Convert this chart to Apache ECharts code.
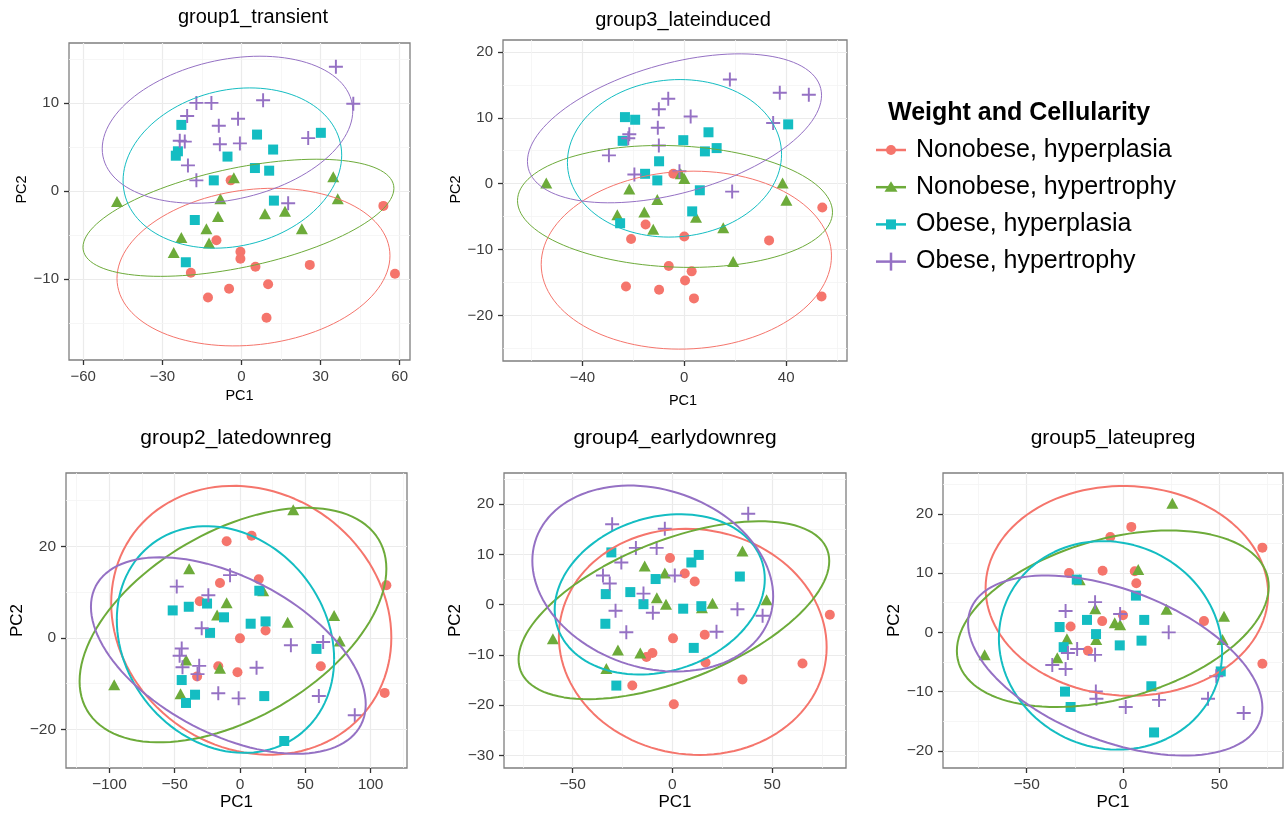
<!DOCTYPE html>
<html><head><meta charset="utf-8">
<script src="https://cdn.jsdelivr.net/npm/echarts@6/dist/echarts.min.js"></script>
<style>html,body{margin:0;padding:0;background:#fff}#chart{width:1286px;height:814px}</style>
</head><body><div id="chart"></div>
<script>
// ---------- data ----------
const groupNames = ['Nonobese, hyperplasia','Nonobese, hypertrophy','Obese, hyperplasia','Obese, hypertrophy'];
const groupColors = ['#F5756C','#6DAB3A','#14BDC2','#9571C4'];
const legendTitle = 'Weight and Cellularity';
const panelTitles = ['group1_transient','group3_lateinduced','group2_latedownreg','group4_earlydownreg','group5_lateupreg'];

// panel 1: group1_transient
const p1_red = [[-4.1,1.2],[-9.5,-5.6],[-0.4,-6.9],[-0.4,-7.7],[5.3,-8.6],[25.9,-8.4],[-19.2,-9.3],[53.8,-1.7],[58.2,-9.4],[-12.7,-12.1],[-4.7,-11.1],[10.1,-10.6],[9.5,-14.4]];
const p1_green = [[-47.2,-1.2],[-2.9,1.5],[-8.0,-0.9],[-8.9,-2.9],[-13.3,-4.3],[-22.8,-5.3],[-12.3,-5.9],[-25.7,-7.0],[8.9,-2.6],[16.5,-2.3],[22.9,-4.3],[34.8,1.6],[36.5,-0.9]];
const p1_cyan = [[-22.8,7.5],[-24.1,4.5],[-24.9,4.0],[-5.3,3.9],[-10.5,1.2],[5.9,6.4],[12.0,4.7],[5.1,2.6],[10.5,2.3],[30.1,6.6],[12.3,-1.1],[-17.7,-3.3],[-21.1,-8.1]];
const p1_purple = [[35.8,14.1],[42.4,9.9],[-17.1,10.0],[-11.4,10.0],[8.2,10.3],[-20.6,8.5],[-8.6,7.4],[-1.3,8.2],[-23.4,5.7],[-21.5,5.6],[-8.2,5.3],[-0.6,5.4],[25.3,6.0],[-20.3,2.9],[-17.1,1.2],[17.7,-1.4]];
// ellipse: [xmin, xmax, ymin, ymax, x at topmost point]
const p1_ellipses = [[-47.2,56.3,-17.6,0.3,12.0],[-60.1,57.8,-9.7,3.6,28.5],[-44.9,38.0,-6.5,11.7,3.2],[-52.8,42.2,-1.4,15.3,7.0]];
const p1_xRange = [-65.4,63.9], p1_yRange = [-19.2,16.8];
const p1_xTicks = [-60,-30,0,30,60], p1_yTicks = [-10,0,10];

// panel 2: group3_lateinduced
const p2_red = [[-4.3,1.5],[-15.2,-6.2],[-20.9,-8.4],[0,-8.0],[33.3,-8.6],[54.2,-3.6],[-6.1,-12.5],[2.9,-13.3],[0.3,-14.7],[-22.9,-15.6],[-9.9,-16.1],[3.8,-17.4],[53.9,-17.1]];
const p2_green = [[-54.2,0.1],[-21.6,-0.8],[-1.4,1.5],[0,0.8],[-10.6,-2.4],[-26.3,-4.7],[-15.7,-4.3],[-12.2,-6.9],[4.6,-5.1],[15.3,-6.7],[19.2,-11.8],[38.6,0.1],[40.1,-2.5]];
const p2_cyan = [[-23.3,10.1],[-19.3,9.7],[-24.2,6.5],[-0.4,6.6],[9.5,7.8],[8.1,4.9],[12.7,5.4],[-9.9,3.4],[-15.4,1.5],[-10.6,0.5],[6.1,-1.0],[3.1,-4.2],[-25.2,-6.0],[40.8,9.0]];
const p2_purple = [[17.9,15.8],[37.5,13.8],[48.9,13.5],[-6.3,12.9],[-10.0,11.3],[2.5,10.2],[-10.4,8.5],[-21.6,7.5],[-22.0,6.9],[-10.0,5.8],[-29.6,4.3],[-19.6,1.4],[-1.9,1.9],[34.9,9.2],[18.8,-1.2]];
const p2_ellipses = [[-56.2,57.8,-25.1,1.9,3.5],[-65.5,58.2,-12.7,5.8,-9.5],[-45.9,38.2,-8.1,15.8,-1.7],[-61.6,53.9,-2.9,19.7,21.8]];
const p2_xRange = [-71.2,63.9], p2_yRange = [-26.9,21.8];
const p2_xTicks = [-40,0,40], p2_yTicks = [-20,-10,0,10,20];

// panel 3: group2_latedownreg
const p3_red = [[-10.2,21.1],[8.9,22.3],[-15.3,12.0],[14.4,12.8],[-30.8,8.0],[0,-0.1],[19.6,1.6],[-16.6,-6.2],[-1.9,-7.5],[-32.8,-8.4],[61.9,-6.2],[112.1,11.5],[110.8,-12.0]];
const p3_green = [[-38.9,15.1],[-10.2,7.7],[-17.5,5.0],[17.8,10.3],[36.5,3.4],[40.8,28.0],[72.1,4.9],[76.4,-0.7],[-41.2,-4.8],[-15.3,-6.6],[-45.5,-12.2],[-96.3,-10.2]];
const p3_cyan = [[-51.5,6.0],[-39.2,6.8],[-25.2,7.5],[-12.2,4.5],[-22.9,1.1],[8.2,3.1],[19.6,3.6],[14.8,10.3],[58.6,-2.4],[-44.6,-9.2],[-34.4,-12.4],[-41.3,-14.2],[18.6,-12.7],[33.9,-22.5]];
const p3_purple = [[-48.4,11.2],[-7.6,13.7],[-24.2,9.3],[-29.3,2.1],[-44.6,-2.3],[-46.2,-3.9],[-44.0,-6.4],[-31.2,-6.1],[-32.5,-7.9],[12.7,-6.5],[39.0,-1.6],[63.7,-0.9],[-16.6,-12.1],[-1.0,-13.2],[60.4,-12.7],[87.9,-16.9]];
const p3_ellipses = [[-98.6,115.9,-25.5,33.2,-5.1],[-122.8,112.1,-22.8,28.4,51.0],[-94.3,72.1,-25.1,24.4,-25.5],[-114.1,96.3,-25.3,17.6,-61.1]];
const p3_xRange = [-133.2,127.9], p3_yRange = [-28.4,36.0];
const p3_xTicks = [-100,-50,0,50,100], p3_yTicks = [-20,0,20];

// panel 4: group4_earlydownreg
const p4_red = [[-1.2,9.3],[6.2,6.2],[11.2,4.6],[0.3,-6.7],[16.2,-6.0],[-13.0,-10.4],[-10.0,-9.6],[16.6,-11.5],[-20.1,-16.1],[0.7,-19.8],[35.1,-14.9],[65.2,-11.7],[78.9,-2.0]];
const p4_green = [[-13.9,7.7],[-3.8,6.3],[-7.8,1.4],[-3.2,0.1],[14.8,-0.6],[20.1,0.3],[35.1,10.7],[47.2,1.0],[-59.9,-6.8],[-27.3,-9.0],[-16.1,-9.6],[-33.1,-12.7]];
const p4_cyan = [[-30.6,10.4],[-33.4,2.1],[-21.1,2.5],[-14.5,0.1],[-8.4,5.1],[9.5,8.4],[13.2,9.9],[33.8,5.6],[5.4,-0.8],[14.5,-0.3],[-33.6,-3.8],[10.7,-8.6],[-28.1,-16.1]];
const p4_purple = [[-30.2,16.0],[-3.8,15.1],[38.0,18.1],[-18.3,11.3],[-7.9,11.3],[-25.6,8.4],[-34.8,5.8],[-31.4,4.2],[1.2,5.8],[-14.5,2.2],[-28.5,-1.2],[-9.8,-1.6],[32.6,-0.9],[45.2,-2.2],[-23.1,-5.5],[22.1,-5.4]];
const p4_ellipses = [[-56.9,77.3,-29.9,15.1,7.0],[-77.1,78.6,-18.8,16.6,43.8],[-59.0,46.3,-13.9,18.0,3.7],[-70.2,50.5,-13.3,23.7,-21.4]];
const p4_xRange = [-84.4,87.0], p4_yRange = [-32.5,26.2];
const p4_xTicks = [-50,0,50], p4_yTicks = [-30,-20,-10,0,10,20];

// panel 5: group5_lateupreg
const p5_red = [[4.3,17.8],[-6.6,16.1],[-28.0,10.0],[-10.6,10.4],[6.1,10.3],[6.9,8.3],[-27.2,1.0],[-10.8,1.9],[0,2.9],[-18.2,-3.1],[42.0,1.9],[72.3,14.3],[72.3,-5.3]];
const p5_green = [[25.6,21.8],[-22.5,8.9],[7.9,10.6],[-14.4,4.0],[22.6,3.9],[52.4,2.7],[-4.3,1.6],[-1.5,1.3],[-29.1,-1.1],[-13.9,-1.2],[-34.1,-4.3],[51.6,-1.2],[-71.8,-3.8]];
const p5_cyan = [[-24.0,8.9],[6.7,6.2],[-18.7,2.1],[11.0,2.1],[-32.9,0.9],[-14.0,-0.3],[-30.8,-2.5],[-1.7,-2.2],[9.6,-1.4],[-30.1,-10.0],[-27.2,-12.6],[14.7,-9.1],[16.1,-16.9],[50.7,-6.6]];
const p5_purple = [[-29.8,3.6],[-14.5,5.1],[-1.5,3.1],[23.7,0],[-23.8,-2.8],[-28.6,-3.5],[-14.5,-3.8],[-36.7,-5.5],[-29.8,-6.2],[-14.1,-10.0],[-13.8,-11.2],[1.4,-12.6],[18.7,-11.4],[44.1,-11.2],[48.4,-7.4],[62.6,-13.6]];
const p5_ellipses = [[-71.3,75.3,-10.7,24.7,0],[-86.2,75.6,-12.6,17.2,24.2],[-64.4,51.4,-19.8,15.4,-10.4],[-80.4,72.3,-20.8,9.6,-39.8]];
const p5_xRange = [-93.4,83.0], p5_yRange = [-22.9,26.9];
const p5_xTicks = [-50,0,50], p5_yTicks = [-20,-10,0,10,20];

// ---------- layout ----------
const FONT = "'Liberation Sans', Arial, Helvetica, sans-serif";
const panels = [
  {data:[p1_red,p1_green,p1_cyan,p1_purple], ell:p1_ellipses, xr:p1_xRange, yr:p1_yRange, xt:p1_xTicks, yt:p1_yTicks,
   box:[69,43,341,317], tx:253, ty:17, tfs:20, lfs:15, nfs:14.5, xGap:28, yGap:25, lw:1, xPad:[0,0,0,0], yPad:[0,0,0,24]},
  {data:[p2_red,p2_green,p2_cyan,p2_purple], ell:p2_ellipses, xr:p2_xRange, yr:p2_yRange, xt:p2_xTicks, yt:p2_yTicks,
   box:[503,40,344,321], tx:683, ty:20, tfs:20, lfs:15, nfs:14.5, xGap:32, yGap:24.5, lw:1, xPad:[0,0,0,16], yPad:[0,0,0,22]},
  {data:[p3_red,p3_green,p3_cyan,p3_purple], ell:p3_ellipses, xr:p3_xRange, yr:p3_yRange, xt:p3_xTicks, yt:p3_yTicks,
   box:[66,473,341,295], tx:236, ty:438, tfs:21, lfs:15.5, nfs:17, xGap:26, yGap:40, lw:2, xPad:[0,0,0,0], yPad:[0,0,0,0]},
  {data:[p4_red,p4_green,p4_cyan,p4_purple], ell:p4_ellipses, xr:p4_xRange, yr:p4_yRange, xt:p4_xTicks, yt:p4_yTicks,
   box:[504,473,342,295], tx:675, ty:438, tfs:21, lfs:15.5, nfs:17, xGap:26, yGap:39, lw:2, xPad:[0,0,0,0], yPad:[0,0,0,0]},
  {data:[p5_red,p5_green,p5_cyan,p5_purple], ell:p5_ellipses, xr:p5_xRange, yr:p5_yRange, xt:p5_xTicks, yt:p5_yTicks,
   box:[943,473,340,295], tx:1113, ty:438, tfs:21, lfs:15.5, nfs:17, xGap:26, yGap:40, lw:2, xPad:[0,0,0,0], yPad:[0,0,0,0]}
];

const PLUS = 'path://M5.6,0H7.4V5.6H13V7.4H7.4V13H5.6V7.4H0V5.6H5.6Z';
const symbols = ['circle','triangle','rect',PLUS];
const symbolSizes = [10,[12,11],10,14];

function ellipsePoints(p){
  const [xmin,xmax,ymin,ymax,xTop] = p;
  const cx=(xmin+xmax)/2, cy=(ymin+ymax)/2, wx=(xmax-xmin)/2, wy=(ymax-ymin)/2;
  const d = Math.acos(Math.max(-1,Math.min(1,(xTop-cx)/wx)));
  const pts=[]; const N=120;
  for(let i=0;i<=N;i++){ const t=2*Math.PI*i/N; pts.push([cx+wx*Math.cos(t), cy+wy*Math.cos(t-d)]); }
  return pts;
}
function minors(ticks, range){
  const step = ticks[1]-ticks[0]; const out=[];
  for(let v=ticks[0]-step/2; v<range[1]; v+=step){ if(v>range[0]) out.push(v); }
  return out;
}
const fmt = v => String(v).replace('-', '\u2212');

const grid=[], xAxis=[], yAxis=[], series=[], graphic=[];
panels.forEach((P,i)=>{
  grid.push({left:P.box[0], top:P.box[1], width:P.box[2], height:P.box[3], show:true, backgroundColor:'#fff', borderColor:'#7F7F7F', borderWidth:1.3});
  const tick = {show:true, length:5, lineStyle:{color:'#333', width:1.3}};
  xAxis.push({type:'value', gridIndex:i, min:P.xr[0], max:P.xr[1], position:'bottom',
    axisLine:{show:false, onZero:false}, axisTick:Object.assign({customValues:P.xt}, tick),
    axisLabel:{customValues:P.xt, formatter:fmt, margin:9, fontSize:P.lfs, color:'#3D3D3D', fontFamily:FONT},
    splitLine:{show:true, lineStyle:{color:'#EBEBEB', width:1.2}},
    name:'PC1', nameLocation:'middle', nameGap:P.xGap, nameTextStyle:{fontSize:P.nfs, color:'#000', fontFamily:FONT, padding:P.xPad}});
  yAxis.push({type:'value', gridIndex:i, min:P.yr[0], max:P.yr[1], position:'left',
    axisLine:{show:false, onZero:false}, axisTick:Object.assign({customValues:P.yt}, tick),
    axisLabel:{customValues:P.yt, formatter:fmt, margin:10, fontSize:P.lfs, color:'#3D3D3D', fontFamily:FONT},
    splitLine:{show:true, lineStyle:{color:'#EBEBEB', width:1.2}},
    name:'PC2', nameLocation:'middle', nameRotate:90, nameGap:P.yGap, nameTextStyle:{fontSize:P.nfs, color:'#000', fontFamily:FONT, padding:P.yPad}});
  // minor grid lines
  series.push({type:'line', xAxisIndex:i, yAxisIndex:i, data:[], silent:true, animation:false,
    markLine:{silent:true, animation:false, symbol:['none','none'], label:{show:false}, z:1,
      lineStyle:{color:'#F4F4F4', width:0.8, type:'solid'}, emphasis:{disabled:true},
      data:[...minors(P.xt,P.xr).map(v=>({xAxis:v})), ...minors(P.yt,P.yr).map(v=>({yAxis:v}))]}});
  P.data.forEach((d,g)=>{
    series.push({type:'scatter', name:groupNames[g], xAxisIndex:i, yAxisIndex:i, data:d,
      symbol:symbols[g], symbolSize:symbolSizes[g], itemStyle:{color:groupColors[g], opacity:1}, z:3, animation:false});
  });
  P.ell.forEach((e,g)=>{
    series.push({type:'line', name:groupNames[g], xAxisIndex:i, yAxisIndex:i, data:ellipsePoints(e),
      showSymbol:false, symbol:'none', silent:true, lineStyle:{color:groupColors[g], width:P.lw}, z:4, animation:false});
  });
  graphic.push({type:'text', x:P.tx, y:P.ty, style:{text:panelTitles[i], fontSize:P.tfs, fontFamily:FONT, fill:'#000', align:'center', verticalAlign:'middle'}});
});

// legend (drawn as graphics)
graphic.push({type:'text', x:888, y:113, style:{text:legendTitle, fontSize:25, fontWeight:'bold', fontFamily:FONT, fill:'#000', align:'left', verticalAlign:'middle'}});
groupNames.forEach((name,g)=>{
  const y = 150 + 37.2*g, c = groupColors[g], cx = 891;
  graphic.push({type:'line', shape:{x1:876,y1:y,x2:906,y2:y}, style:{stroke:c, lineWidth:2.5}});
  if(g===0) graphic.push({type:'circle', shape:{cx:cx,cy:y,r:5}, style:{fill:c}});
  if(g===1) graphic.push({type:'polygon', shape:{points:[[cx,y-6],[cx+6.5,y+4.5],[cx-6.5,y+4.5]]}, style:{fill:c}});
  if(g===2) graphic.push({type:'rect', shape:{x:cx-5,y:y-5,width:10,height:10}, style:{fill:c}});
  if(g===3) graphic.push({type:'line', shape:{x1:cx,y1:y-9,x2:cx,y2:y+9}, style:{stroke:c, lineWidth:2.5}});
  graphic.push({type:'text', x:916, y:y, style:{text:name, fontSize:25, fontFamily:FONT, fill:'#000', align:'left', verticalAlign:'middle'}});
});

const chart = echarts.init(document.getElementById('chart'), null, {renderer:'canvas'});
chart.setOption({backgroundColor:'#fff', animation:false, textStyle:{fontFamily:FONT}, grid, xAxis, yAxis, series, graphic});
</script></body></html>
